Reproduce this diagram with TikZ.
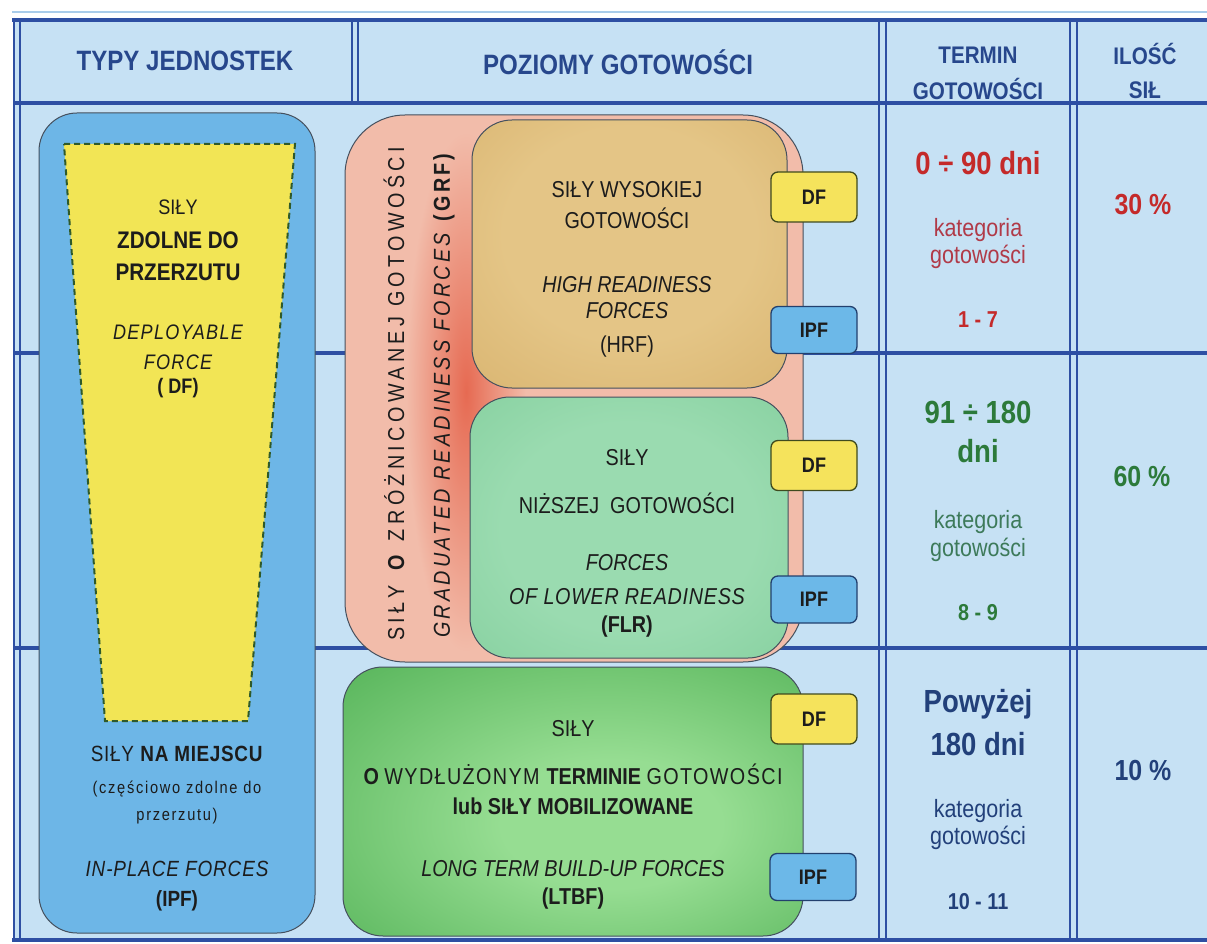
\documentclass[tikz,border=0pt]{standalone}
\usepackage{fontspec}
\setmainfont{Liberation Sans}[FakeStretch=0.86]
\newcommand{\myfs}[1]{\fontsize{#1}{#1}\selectfont}
\newcommand{\lsp}[2]{{\addfontfeature{LetterSpace=#1}#2}}
\definecolor{cellbg}{HTML}{C6E1F4}
\definecolor{faint}{HTML}{A9CCEA}
\definecolor{lineblue}{HTML}{2E4FA3}
\definecolor{hdrblue}{HTML}{27478C}
\definecolor{ipfblue}{HTML}{6DB6E7}
\definecolor{boxedge}{HTML}{45505E}
\definecolor{dfyellow}{HTML}{F2E555}
\definecolor{dfdash}{HTML}{2F5A2A}
\definecolor{grfsalmon}{HTML}{F2BCAA}
\definecolor{grfred}{HTML}{E66A52}
\definecolor{hrflight}{HTML}{E4C586}
\definecolor{hrfdark}{HTML}{D0A75F}
\definecolor{flrlight}{HTML}{9ADBB0}
\definecolor{flrdark}{HTML}{74C690}
\definecolor{ltbflight}{HTML}{96DD92}
\definecolor{ltbfdark}{HTML}{3FA545}
\definecolor{tagyellow}{HTML}{F5E35C}
\definecolor{tagyedge}{HTML}{3F4A1E}
\definecolor{tagblue}{HTML}{6CB8E8}
\definecolor{tagbedge}{HTML}{22406E}
\definecolor{txt}{HTML}{1C1C1C}
\definecolor{redtxt}{HTML}{C42A2A}
\definecolor{redsoft}{HTML}{B03A48}
\definecolor{greentxt}{HTML}{2C7A3A}
\definecolor{greensoft}{HTML}{3D7A5A}
\definecolor{navytxt}{HTML}{22407A}
\pgfdeclareradialshading{ltbfsh}{\pgfpoint{5bp}{-5bp}}{color(0bp)=(ltbflight); color(12bp)=(ltbflight); color(50bp)=(ltbfdark); color(75bp)=(ltbfdark)}
\pgfdeclareradialshading{flrsh}{\pgfpoint{0bp}{0bp}}{color(0bp)=(flrlight); color(20bp)=(flrlight); color(55bp)=(flrdark); color(75bp)=(flrdark)}
\pgfdeclareradialshading{hrfsh}{\pgfpoint{0bp}{5bp}}{color(0bp)=(hrflight); color(20bp)=(hrflight); color(55bp)=(hrfdark); color(75bp)=(hrfdark)}
\tikzset{
  tline/.style={draw=lineblue, line width=4pt},
  vline/.style={draw=lineblue, line width=2.6pt},
  t/.style={inner sep=0pt, text=txt},
  hdr/.style={inner sep=0pt, text=hdrblue, font=\bfseries\myfs{28}},
  hdrs/.style={inner sep=0pt, text=hdrblue, font=\bfseries\myfs{24}},
  bigbox/.style={draw=boxedge, line width=1pt, inner sep=0pt},
  tagbox/.style={rounded corners=7pt, line width=1.3pt, inner sep=0pt,
    minimum width=86pt, font=\bfseries\myfs{21}, text=txt},
  dftag/.style={tagbox, fill=tagyellow, draw=tagyedge, minimum height=50pt},
  ipftag/.style={tagbox, fill=tagblue, draw=tagbedge, minimum height=47pt},
  big/.style={inner sep=0pt, font=\bfseries\myfs{32}},
  kat/.style={inner sep=0pt, font=\myfs{25}},
  num/.style={inner sep=0pt, font=\bfseries\myfs{23}},
  pct/.style={inner sep=0pt, font=\bfseries\myfs{29}},
  dfborder/.style={draw=dfdash, line width=2pt, dash pattern=on 6pt off 4pt, fill=dfyellow},
}
\begin{document}
\begin{tikzpicture}[x=1pt,y=-1pt]
\useasboundingbox (0,0) rectangle (1207,944);
\fill[white] (0,0) rectangle (1207,944);
\fill[cellbg] (14,18) rectangle (1207,942);
\draw[faint, line width=1.5pt] (12,12) -- (1207,12);
% grid lines
\draw[tline] (12,20) -- (1207,20);
\draw[tline] (14,103) -- (1207,103);
\draw[tline] (14,353) -- (1207,353);
\draw[tline] (14,648) -- (1207,648);
\draw[tline] (12,940) -- (1207,940);
\draw[vline] (14,18) -- (14,942);
\draw[vline] (20,20) -- (20,940);
\draw[vline] (352,20) -- (352,103);
\draw[vline] (358,20) -- (358,103);
\draw[vline] (879,20) -- (879,940);
\draw[vline] (886,20) -- (886,940);
\draw[vline] (1070,20) -- (1070,940);
\draw[vline] (1077,20) -- (1077,940);
% headers
\node[hdr] (h1) at (185,61) {TYPY JEDNOSTEK};
\node[hdr] (h2) at (618,62) {POZIOMY GOTOWOŚCI};
\node[hdrs] (h3a) at (978,55) {TERMIN};
\node[hdrs] (h3b) at (978,89) {GOTOWOŚCI};
\node[hdrs] (h4a) at (1145,54) {ILOŚĆ};
\node[hdrs] (h4b) at (1145,90) {SIŁ};
% left column
\node[bigbox, fill=ipfblue, rounded corners=38pt, minimum width=276pt, minimum height=820pt] (ipfbox) at (177,523) {};
\draw[dfborder] (64,144) -- (295,144) -- (248,721) -- (105,721) -- cycle;
\node[t, font=\myfs{21}] (y1) at (178,207) {SIŁY};
\node[t, font=\bfseries\myfs{24}] (y2) at (178,240) {ZDOLNE DO};
\node[t, font=\bfseries\myfs{24}] (y3) at (178,272) {PRZERZUTU};
\node[t, font=\itshape\myfs{21}] (y4) at (178,332) {\lsp{6}{DEPLOYABLE}};
\node[t, font=\itshape\myfs{21}] (y5) at (178,362) {\lsp{6}{FORCE}};
\node[t, font=\bfseries\myfs{21}] (y6) at (178,388) {( DF)};
\node[t, font=\myfs{22}] (b1) at (177,754) {\lsp{3}{SIŁY \textbf{NA MIEJSCU}}};
\node[t, font=\myfs{17}] (b2) at (177,789) {\lsp{10}{(częściowo zdolne do}};
\node[t, font=\myfs{17}] (b3) at (177,816) {\lsp{10}{przerzutu)}};
\node[t, font=\itshape\myfs{22}] (b4) at (177,869) {\lsp{4}{IN-PLACE FORCES}};
\node[t, font=\bfseries\myfs{22}] (b5) at (177,901) {(IPF)};
% GRF
\node[bigbox, fill=grfsalmon, rounded corners=60pt, minimum width=458pt, minimum height=547pt] (grf) at (574,388.5) {};
\begin{scope}
  \clip[rounded corners=60pt] (345,115) rectangle (803,662);
  \shade[inner color=grfred, outer color=grfsalmon] (466,392) ellipse [x radius=60, y radius=260];
\end{scope}
\node[t, rotate=90, font=\myfs{23}] (g1) at (394,394) {\lsp{19}{SIŁY \textbf{O} ZRÓŻNICOWANEJ GOTOWOŚCI}};
\node[t, rotate=90, font=\myfs{23}] (g2) at (444,394) {\lsp{14}{\textit{GRADUATED READINESS FORCES} \textbf{(GRF)}}};
% HRF
\node[bigbox, shading=hrfsh, rounded corners=40pt, minimum width=315pt, minimum height=268pt] (hrf) at (629.5,254) {};
\node[t, font=\myfs{23}] (r1) at (627,190) {SIŁY WYSOKIEJ};
\node[t, font=\myfs{23}] (r2) at (627,218) {GOTOWOŚCI};
\node[t, font=\itshape\myfs{23}] (r3) at (627,285) {HIGH READINESS};
\node[t, font=\itshape\myfs{23}] (r4) at (627,311) {FORCES};
\node[t, font=\myfs{23}] (r5) at (627,347) {(HRF)};
% FLR
\node[bigbox, shading=flrsh, rounded corners=40pt, minimum width=318pt, minimum height=261pt] (flr) at (629,527.5) {};
\node[t, font=\myfs{23}] (f1) at (627,458) {SIŁY};
\node[t, font=\myfs{23}] (f2) at (627,503) {NIŻSZEJ\ \ GOTOWOŚCI};
\node[t, font=\itshape\myfs{23}] (f3) at (627,563) {FORCES};
\node[t, font=\itshape\myfs{23}] (f4) at (627,597) {\lsp{3}{OF LOWER READINESS}};
\node[t, font=\bfseries\myfs{23}] (f5) at (627,627) {(FLR)};
% LTBF
\node[bigbox, shading=ltbfsh, rounded corners=40pt, minimum width=460pt, minimum height=269pt] (ltbf) at (573,801.5) {};
\node[t, font=\myfs{23}] (l1) at (573,729) {SIŁY};
\node[t, font=\myfs{23}] (l2) at (573,774) {\textbf{O} \lsp{6}{WYDŁUŻONYM} \textbf{TERMINIE} \lsp{6}{GOTOWOŚCI}};
\node[t, font=\bfseries\myfs{23}] (l3) at (573,806) {lub SIŁY MOBILIZOWANE};
\node[t, font=\itshape\myfs{23}] (l4) at (573,869) {LONG TERM BUILD-UP FORCES};
\node[t, font=\bfseries\myfs{23}] (l5) at (573,899) {(LTBF)};
% tags
\node[dftag] (df1) at (814,197) {DF};
\node[ipftag] (ipf1) at (814,330) {IPF};
\node[dftag] (df2) at (814,465.5) {DF};
\node[ipftag] (ipf2) at (814,599.5) {IPF};
\node[dftag] (df3) at (814,719) {DF};
\node[ipftag] (ipf3) at (813,877) {IPF};
% column 3
\node[big, text=redtxt] (c1a) at (978,163) {0 ÷ 90 dni};
\node[kat, text=redsoft] (c1b) at (978,230) {kategoria};
\node[kat, text=redsoft] (c1c) at (978,257) {gotowości};
\node[num, text=redtxt] (c1d) at (978,320) {1 - 7};
\node[big, text=greentxt] (c2a) at (978,412) {91 ÷ 180};
\node[big, text=greentxt] (c2b) at (978,451) {dni};
\node[kat, text=greensoft] (c2c) at (978,522) {kategoria};
\node[kat, text=greensoft] (c2d) at (978,550) {gotowości};
\node[num, text=greentxt] (c2e) at (978,613) {8 - 9};
\node[big, text=navytxt] (c3a) at (978,704) {Powyżej};
\node[big, text=navytxt] (c3b) at (978,744) {180 dni};
\node[kat, text=navytxt] (c3c) at (978,811) {kategoria};
\node[kat, text=navytxt] (c3d) at (978,838) {gotowości};
\node[num, text=navytxt] (c3e) at (978,902) {10 - 11};
% column 4
\node[pct, text=redtxt] (p1) at (1143,205) {30 \%};
\node[pct, text=greentxt] (p2) at (1142,477) {60 \%};
\node[pct, text=navytxt] (p3) at (1143,771) {10 \%};
\end{tikzpicture}
\end{document}
